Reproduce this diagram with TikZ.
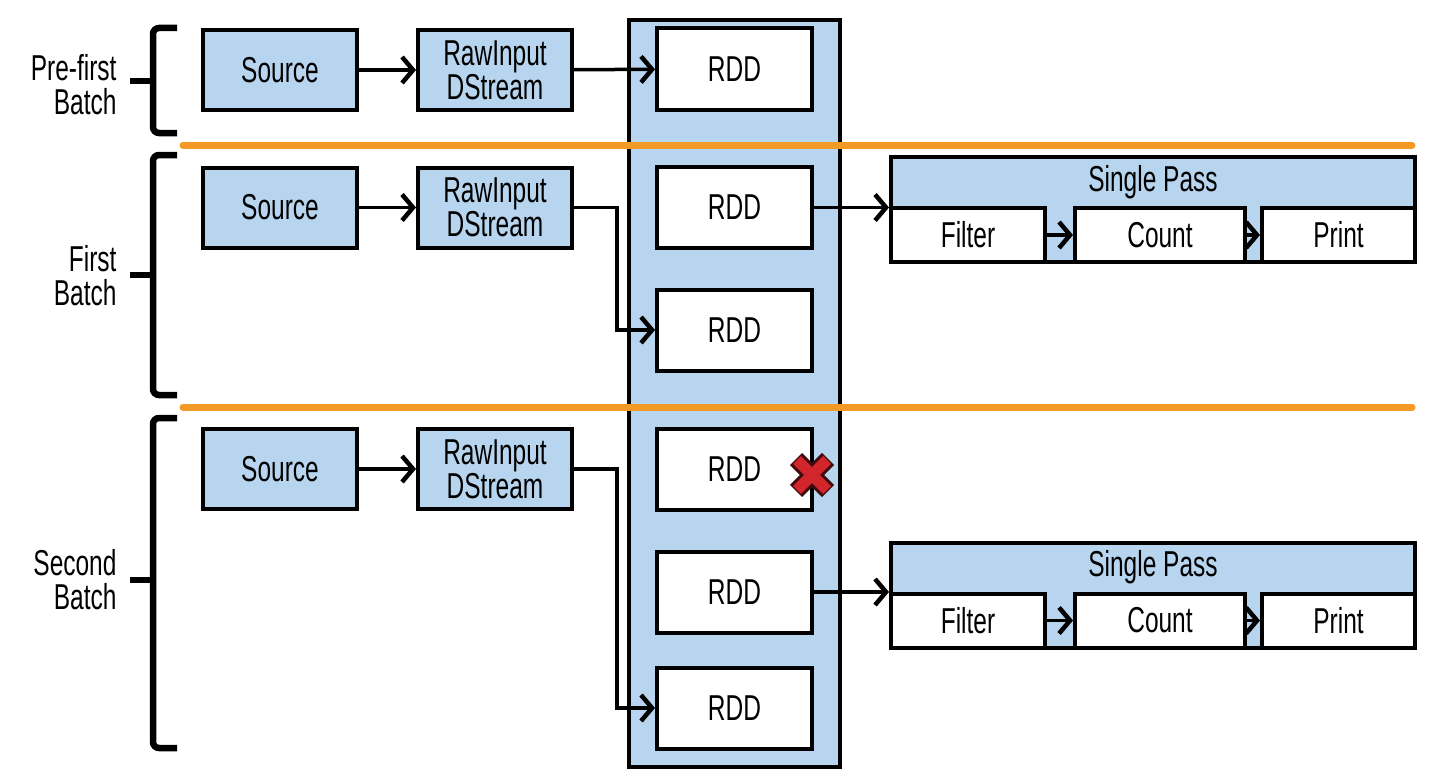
\documentclass[tikz,border=0pt]{standalone}
\usepackage{fontspec}
\setmainfont{Liberation Sans}[FakeStretch=0.68]
\usepackage{tikz}
\usetikzlibrary{arrows.meta,positioning}
\definecolor{sparkblue}{RGB}{183,213,238}
\definecolor{batchorange}{RGB}{243,153,38}
\definecolor{lostred}{RGB}{210,38,44}

\begin{document}
\begin{tikzpicture}[
  x=1pt, y=-1pt,
  node distance=57pt,
  every node/.style={font=\fontsize{36}{34}\selectfont},
  blk/.style={draw, line width=4pt, fill=sparkblue, minimum width=154pt, minimum height=80pt, align=center, inner sep=0pt},
  rdd/.style={draw, line width=4pt, fill=white, minimum width=155pt, minimum height=81pt, inner sep=0pt},
  op/.style={draw, line width=4pt, fill=white, minimum height=54pt, inner sep=0pt},
  arrow/.style={-{Straight Barb[length=11pt,width=26pt,line width=4.5pt]}, line width=3.5pt},
  brace/.style={line width=6.5pt, rounded corners=6pt},
  sep/.style={batchorange, line width=7pt, line cap=round},
  lbl/.style={align=right, anchor=east}
]
\useasboundingbox (0,0) rectangle (1446,784);

% RDD column
\draw[line width=4pt, fill=sparkblue] (629,20) rectangle (840,767);

\draw[sep] (183,145) -- (1412,145);
\draw[sep] (183,407) -- (1412,407);

% batches
\node[lbl] (prelbl) at (120,85) {Pre-first\\Batch};
\node[lbl] (firstlbl) at (120,276) {First\\Batch};
\node[lbl] (secondlbl) at (120,580) {Second\\Batch};

\draw[brace] (177,28) -- (153,28) -- (153,133) -- (177,133);
\draw[line width=6.5pt] (153,81) -- (130,81);
\draw[brace] (177,155) -- (153,155) -- (153,395) -- (177,395);
\draw[line width=6.5pt] (153,275) -- (130,275);
\draw[brace] (177,418) -- (153,418) -- (153,748) -- (177,748);
\draw[line width=6.5pt] (153,580) -- (130,580);

\node[blk] (src1) at (280,70) {Source};
\node[blk, right=of src1] (raw1) {RawInput\\DStream};
\node[blk] (src2) at (280,207.5) {Source};
\node[blk, right=of src2] (raw2) {RawInput\\DStream};
\node[blk] (src3) at (280,469) {Source};
\node[blk, right=of src3] (raw3) {RawInput\\DStream};

\node[rdd] (rddA) at (734.5,69) {RDD};
\node[rdd] (rddB) at (734.5,207.5) {RDD};
\node[rdd] (rddC) at (734.5,330) {RDD};
\node[rdd] (rddD) at (734.5,469) {RDD};
\node[rdd] (rddE) at (734.5,592) {RDD};
\node[rdd] (rddF) at (734.5,708) {RDD};

% single passes
\node[blk, minimum width=524pt, minimum height=105pt] (pass1) at (1153,209.5) {};
\node (passlbl1) at (1153,182) {Single Pass};
\node[op, minimum width=154pt, anchor=south west] (filter1) at (pass1.south west) {Filter};
\node[op, minimum width=170pt, right=26pt of filter1] (count1) {Count};
\node[op, minimum width=153pt, right=13pt of count1] (print1) {Print};

\node[blk, minimum width=524pt, minimum height=105pt] (pass2) at (1153,595) {};
\node (passlbl2) at (1153,567) {Single Pass};
\node[op, minimum width=154pt, anchor=south west] (filter2) at (pass2.south west) {Filter};
\node[op, minimum width=170pt, right=26pt of filter2] (count2) {Count};
\node[op, minimum width=153pt, right=13pt of count2] (print2) {Print};

\draw[arrow] (src1) -- (raw1);
\draw[arrow] (raw1) -- (rddA);
\draw[arrow] (src2) -- (raw2);
\draw[arrow] (raw2.east) -- ++(43,0) |- (rddC.west);
\draw[arrow] (src3) -- (raw3);
\draw[arrow] (raw3.east) -- ++(43,0) |- (rddF.west);

\draw[arrow] (rddB.east) -- (rddB.east -| filter1.west);
\draw[arrow] (rddE.east) -- (rddE.east -| filter2.west);
\draw[arrow] (filter1) -- (count1);
\draw[arrow] (count1) -- (print1);
\draw[arrow] (filter2) -- (count2);
\draw[arrow] (count2) -- (print2);

% lost RDD
\draw[line width=17pt, black!70!lostred] (796,459) -- (828,491) (796,491) -- (828,459);
\draw[line width=11pt, lostred] (797,460) -- (827,490) (797,490) -- (827,460);
\end{tikzpicture}
\end{document}
